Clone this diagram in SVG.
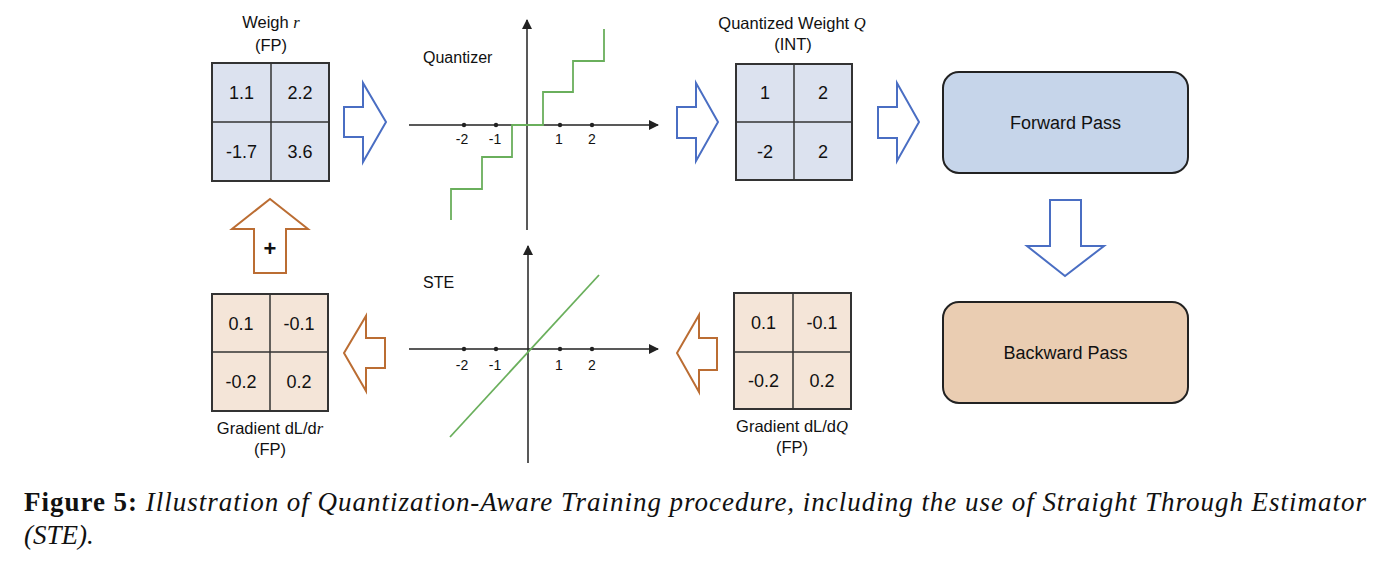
<svg xmlns="http://www.w3.org/2000/svg" width="1379" height="565" viewBox="0 0 1379 565">
<defs>
<style>
text{font-family:"Liberation Sans",Arial,sans-serif;fill:#111}
.lbl{font-size:16.5px;text-anchor:middle}
.num{font-size:18px;text-anchor:middle}
.tick{font-size:14px;text-anchor:middle}
.mb{fill:#dce2ef;stroke:#333;stroke-width:2}
.mo{fill:#f4e5d8;stroke:#333;stroke-width:2}
.grid{stroke:#333;stroke-width:1.5}
.ab{fill:#fff;stroke:#4a6ec3;stroke-width:2}
.ao{fill:#fff;stroke:#bb6d33;stroke-width:2}
.axis{stroke:#222;stroke-width:1.5;fill:none}
.green{stroke:#6aaf5c;stroke-width:1.8;fill:none}
.cap{font-family:"Liberation Serif","Times New Roman",serif;font-size:27px}
</style>
<marker id="ah" viewBox="0 0 10 10" refX="9" refY="5" markerWidth="10" markerHeight="10" markerUnits="userSpaceOnUse" orient="auto">
<path d="M0,0 L10,5 L0,10 z" fill="#222"/>
</marker>
</defs>

<g id="weight-r">
<text class="lbl" x="271" y="28">Weigh <tspan font-family="Liberation Serif" font-style="italic">r</tspan></text>
<text class="lbl" x="271" y="51">(FP)</text>
<rect class="mb" x="212" y="63" width="117" height="118"/>
<line class="grid" x1="271" y1="63" x2="271" y2="181"/>
<line class="grid" x1="212" y1="122" x2="329" y2="122"/>
<text class="num" x="241.5" y="99">1.1</text>
<text class="num" x="300" y="99">2.2</text>
<text class="num" x="241.5" y="158">-1.7</text>
<text class="num" x="300" y="158">3.6</text>
</g>

<g id="quantizer">
<text x="423" y="63" font-size="16">Quantizer</text>
<line class="axis" x1="409" y1="125" x2="658" y2="125" marker-end="url(#ah)"/>
<line class="axis" x1="527" y1="230" x2="527" y2="20" marker-end="url(#ah)"/>
<g fill="#222"><circle cx="464" cy="125" r="2.2"/><circle cx="496" cy="125" r="2.2"/><circle cx="560" cy="125" r="2.2"/><circle cx="592" cy="125" r="2.2"/></g>
<text class="tick" x="462" y="144">-2</text>
<text class="tick" x="495" y="144">-1</text>
<text class="tick" x="559" y="144">1</text>
<text class="tick" x="592" y="144">2</text>
<path class="green" d="M451,220 V189 H482 V157 H512 V125 H543 V92 H573 V61 H604 V29"/>
</g>

<g id="quantized-q">
<text class="lbl" x="792" y="29">Quantized Weight <tspan font-family="Liberation Serif" font-style="italic">Q</tspan></text>
<text class="lbl" x="793" y="50">(INT)</text>
<rect class="mb" x="736" y="64" width="116" height="116"/>
<line class="grid" x1="794" y1="64" x2="794" y2="180"/>
<line class="grid" x1="736" y1="122" x2="852" y2="122"/>
<text class="num" x="765" y="99">1</text>
<text class="num" x="823" y="99">2</text>
<text class="num" x="765" y="158">-2</text>
<text class="num" x="823" y="158">2</text>
</g>

<g id="forward-pass">
<rect x="943" y="72" width="245" height="101" rx="16" fill="#c6d5ea" stroke="#222" stroke-width="2"/>
<text x="1065.5" y="129" font-size="18" text-anchor="middle">Forward Pass</text>
</g>

<g id="backward-pass">
<rect x="943" y="302" width="245" height="101" rx="16" fill="#eacdb2" stroke="#222" stroke-width="2"/>
<text x="1065.5" y="359" font-size="18" text-anchor="middle">Backward Pass</text>
</g>

<g id="grad-q">
<rect class="mo" x="734" y="293" width="117" height="116"/>
<line class="grid" x1="793" y1="293" x2="793" y2="409"/>
<line class="grid" x1="734" y1="352" x2="851" y2="352"/>
<text class="num" x="763.5" y="329">0.1</text>
<text class="num" x="822" y="329">-0.1</text>
<text class="num" x="763.5" y="387">-0.2</text>
<text class="num" x="822" y="387">0.2</text>
<text class="lbl" x="792" y="432">Gradient dL/d<tspan font-family="Liberation Serif" font-style="italic">Q</tspan></text>
<text class="lbl" x="792" y="453">(FP)</text>
</g>

<g id="ste">
<text x="423" y="288" font-size="16">STE</text>
<line class="axis" x1="409" y1="349" x2="658" y2="349" marker-end="url(#ah)"/>
<line class="axis" x1="528" y1="463" x2="528" y2="246" marker-end="url(#ah)"/>
<g fill="#222"><circle cx="464" cy="349" r="2.2"/><circle cx="496" cy="349" r="2.2"/><circle cx="560" cy="349" r="2.2"/><circle cx="592" cy="349" r="2.2"/></g>
<text class="tick" x="462" y="370">-2</text>
<text class="tick" x="495" y="370">-1</text>
<text class="tick" x="559" y="370">1</text>
<text class="tick" x="592" y="370">2</text>
<line class="green" x1="450" y1="437" x2="599" y2="275"/>
</g>

<g id="grad-r">
<rect class="mo" x="212" y="294" width="116" height="117"/>
<line class="grid" x1="270" y1="294" x2="270" y2="411"/>
<line class="grid" x1="212" y1="352" x2="328" y2="352"/>
<text class="num" x="241" y="330">0.1</text>
<text class="num" x="299" y="330">-0.1</text>
<text class="num" x="241" y="388">-0.2</text>
<text class="num" x="299" y="388">0.2</text>
<text class="lbl" x="270" y="434">Gradient dL/d<tspan font-family="Liberation Serif" font-style="italic">r</tspan></text>
<text class="lbl" x="270" y="455">(FP)</text>
</g>

<g id="connectors">
<polygon class="ab" points="344,107 363,107 363,83 386,122 363,162 363,137 344,137"/>
<polygon class="ab" points="677,107 696,107 696,83 718,122 696,161 696,138 677,138"/>
<polygon class="ab" points="878,107 897,107 897,83 919,122 897,161 897,138 878,138"/>
<polygon class="ab" points="1050,200 1081,200 1081,246 1104,246 1065,276 1027,246 1050,246"/>
<polygon class="ao" points="717,338 699,338 699,315 677,353 699,392 699,370 717,370"/>
<polygon class="ao" points="385,338 366,338 366,316 344,353 366,391 366,368 385,368"/>
<polygon class="ao" points="254,273 254,229 232,229 270,199 308,229 286,229 286,273"/>
<text x="270" y="256" font-size="22" font-weight="bold" text-anchor="middle">+</text>
</g>

<g id="caption">
<text class="cap" x="24" y="511" textLength="1342" lengthAdjust="spacing"><tspan font-weight="bold">Figure 5:</tspan> <tspan font-style="italic">Illustration of Quantization-Aware Training procedure, including the use of Straight Through Estimator</tspan></text>
<text class="cap" x="24" y="544" font-style="italic">(STE).</text>
</g>
</svg>
